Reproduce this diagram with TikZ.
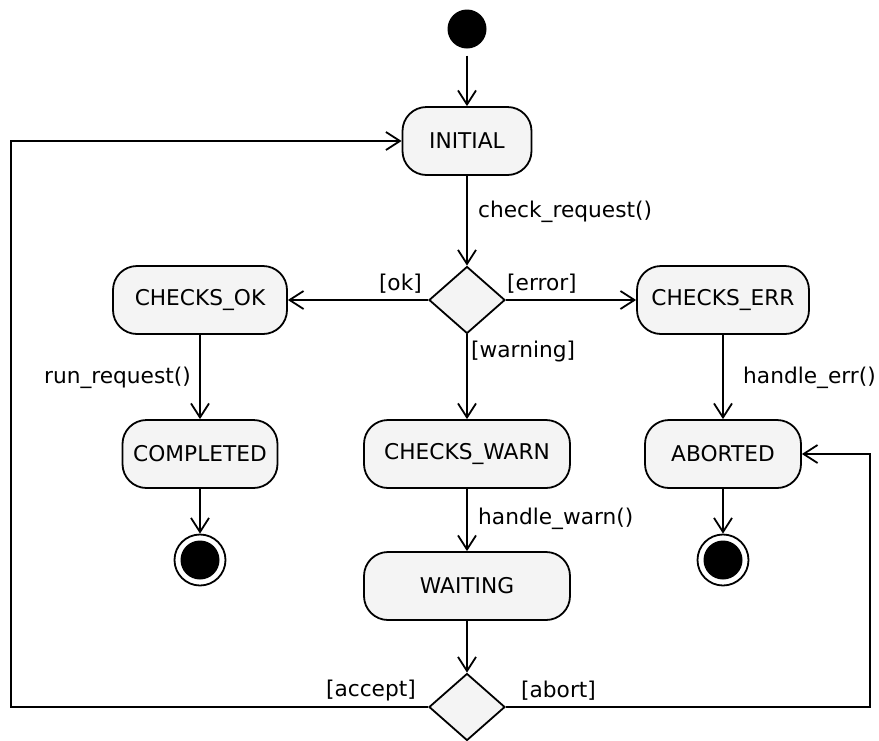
\documentclass[tikz,border=0pt]{standalone}
\usepackage{fontspec}
\setmainfont{DejaVu Sans}
\usetikzlibrary{arrows.meta,shapes.geometric}
\definecolor{statefill}{HTML}{F4F4F4}
\tikzset{
  state/.style={draw, line width=1.8pt, fill=statefill, rounded corners=24pt,
    minimum height=68pt, inner sep=0pt, font=\fontsize{21.7}{26}\selectfont},
  choice/.style={draw, line width=1.8pt, fill=statefill, diamond, inner sep=0pt,
    minimum width=76pt, minimum height=67pt},
  startdot/.style={circle, fill=black, minimum size=39pt, inner sep=0pt},
  enddot/.style={circle, draw, line width=1.8pt, fill=white, minimum size=51pt, inner sep=0pt,
    path picture={\fill[black] (path picture bounding box.center) circle (19.5pt);}},
  flow/.style={line width=1.8pt, -{Straight Barb[length=14pt,width=18pt,line width=1.8pt]}},
  lbl/.style={font=\fontsize{21.7}{26}\selectfont, inner sep=0pt},
}
\begin{document}
\begin{tikzpicture}[x=1pt,y=-1pt]
\useasboundingbox (0,0) rectangle (879,740);

% states
\node[startdot] (start) at (467,29) {};
\node[state, minimum width=129pt] (init) at (467,141) {INITIAL};
\node[choice] (d1) at (467,300) {};
\node[state, minimum width=174pt] (ok) at (200,300) {CHECKS\_OK};
\node[state, minimum width=172pt] (err) at (723,300) {CHECKS\_ERR};
\node[state, minimum width=155pt] (done) at (200,454) {COMPLETED};
\node[state, minimum width=206pt] (warn) at (467,454) {CHECKS\_WARN};
\node[state, minimum width=156pt] (abort) at (723,454) {ABORTED};
\node[enddot] (endl) at (200,560) {};
\node[enddot] (endr) at (723,560) {};
\node[state, minimum width=206pt] (wait) at (467,586) {WAITING};
\node[choice] (d2) at (467,707) {};

% loop-back corners
\coordinate (lc) at (11,707);
\coordinate (rc) at (870,707);

% transitions
\draw[flow, shorten <=7pt] (start) -- (init);
\draw[flow] (init) -- (d1);
\draw[flow] (d1.west) -- (ok.east);
\draw[flow] (d1.east) -- (err.west);
\draw[flow] (d1.south) -- (warn.north);
\draw[flow] (ok) -- (done);
\draw[flow] (err) -- (abort);
\draw[flow] (done) -- (endl);
\draw[flow] (abort) -- (endr);
\draw[flow] (warn) -- (wait);
\draw[flow] (wait) -- (d2.north);
\draw[flow] (d2.west) -- (lc) |- (init.west);
\draw[flow] (d2.east) -- (rc) |- (abort.east);

% transition labels
\node[lbl, anchor=west] (l1) at (478,211.5) {check\_request()};
\node[lbl, anchor=east] (l2) at (422,283.5) {[ok]};
\node[lbl, anchor=west] (l3) at (507,283.5) {[error]};
\node[lbl, anchor=west] (l4) at (471,351.5) {[warning]};
\node[lbl, anchor=east] (l5) at (191,377.5) {run\_request()};
\node[lbl, anchor=west] (l6) at (743,377.5) {handle\_err()};
\node[lbl, anchor=west] (l7) at (478,518.5) {handle\_warn()};
\node[lbl, anchor=east] (l8) at (416,691) {[accept]};
\node[lbl, anchor=west] (l9) at (521,691) {[abort]};
\end{tikzpicture}
\end{document}
